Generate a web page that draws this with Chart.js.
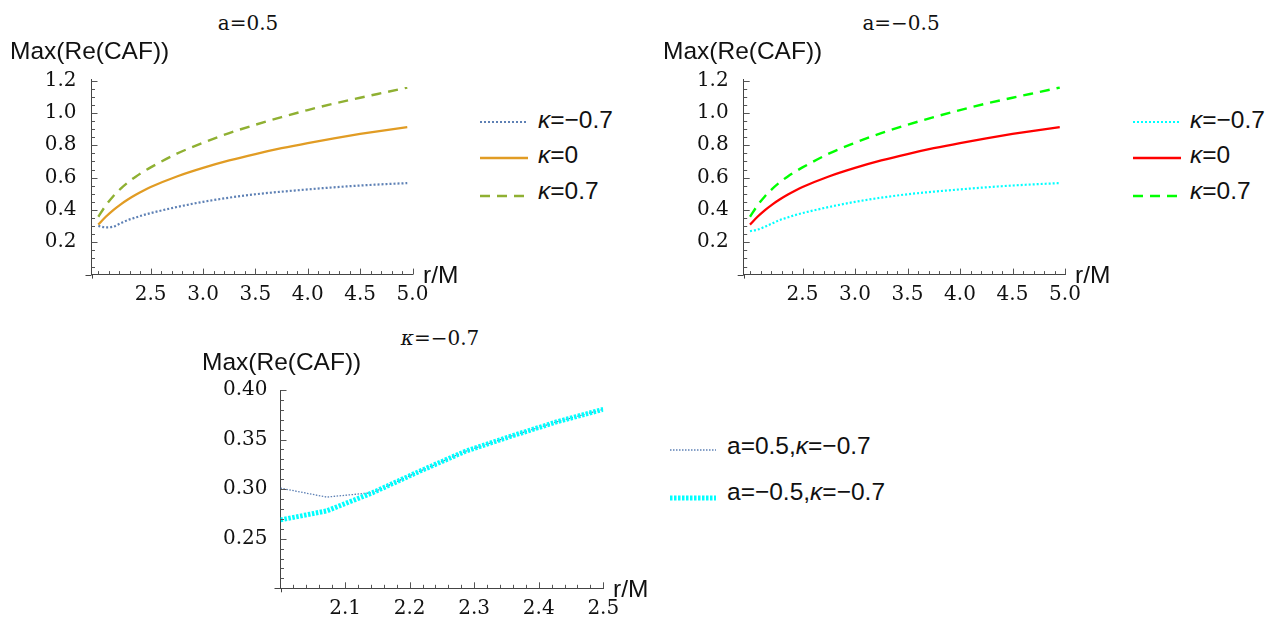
<!DOCTYPE html>
<html><head><meta charset="utf-8">
<script src="https://cdn.jsdelivr.net/npm/chart.js@4"></script>
<style>
body{margin:0;width:1274px;height:618px;background:#fff;position:relative;overflow:hidden;font-family:"Liberation Sans",Arial,sans-serif;color:#111}
.t{position:absolute;white-space:nowrap;line-height:1}
.title{font-family:"DejaVu Serif",serif;font-size:20px;text-align:center;width:200px}
.lab{font-size:24.5px}
canvas{position:absolute}
svg{position:absolute;left:0;top:0}
</style></head><body>
<canvas id="c1" width="480" height="250" style="left:0;top:60px"></canvas>
<canvas id="c2" width="470" height="250" style="left:650px;top:60px"></canvas>
<canvas id="c3" width="450" height="248" style="left:200px;top:370px"></canvas>

<div class="t title" style="left:148px;top:13px">a=0.5</div>
<div class="t title" style="left:801px;top:13px">a=−0.5</div>
<div class="t title" style="left:340px;top:328px"><i>κ</i>=−0.7</div>

<div class="t lab" style="left:10px;top:39px">Max(Re(CAF))</div>
<div class="t lab" style="left:663px;top:39px">Max(Re(CAF))</div>
<div class="t lab" style="left:202px;top:350px">Max(Re(CAF))</div>
<div class="t lab" style="left:423px;top:263px">r/M</div>
<div class="t lab" style="left:1075px;top:263px">r/M</div>
<div class="t lab" style="left:613px;top:577px">r/M</div>

<div class="t lab" style="left:538px;top:107.5px"><i>κ</i>=−0.7</div>
<div class="t lab" style="left:538px;top:143px"><i>κ</i>=0</div>
<div class="t lab" style="left:538px;top:179px"><i>κ</i>=0.7</div>
<div class="t lab" style="left:1190px;top:107.5px"><i>κ</i>=−0.7</div>
<div class="t lab" style="left:1190px;top:143px"><i>κ</i>=0</div>
<div class="t lab" style="left:1190px;top:179px"><i>κ</i>=0.7</div>
<div class="t lab" style="left:727px;top:434px">a=0.5,<i>κ</i>=−0.7</div>
<div class="t lab" style="left:727px;top:480px">a=−0.5,<i>κ</i>=−0.7</div>

<svg width="1274" height="618">
  <line x1="480" y1="122" x2="528" y2="122" stroke="#5e81b5" stroke-width="2.2" stroke-dasharray="2,2"/>
  <line x1="480" y1="158" x2="528" y2="158" stroke="#e19c24" stroke-width="2.3"/>
  <line x1="480" y1="196" x2="528" y2="196" stroke="#8fb032" stroke-width="2.4" stroke-dasharray="10,7"/>
  <line x1="1133" y1="122" x2="1181" y2="122" stroke="#00ffff" stroke-width="2.2" stroke-dasharray="2,2"/>
  <line x1="1133" y1="158" x2="1181" y2="158" stroke="#ff0000" stroke-width="2.3"/>
  <line x1="1133" y1="196" x2="1181" y2="196" stroke="#00ff00" stroke-width="2.4" stroke-dasharray="10,7"/>
  <line x1="670" y1="450" x2="716" y2="450" stroke="#5e81b5" stroke-width="1.3" stroke-dasharray="1.5,1.5"/>
  <line x1="670" y1="498" x2="716" y2="498" stroke="#00ffff" stroke-width="5" stroke-dasharray="2.5,1.5"/>
</svg>

<script>
// ---- data ----
const rTop = [2.0, 2.0714, 2.1429, 2.2143, 2.2857, 2.3571, 2.4286, 2.5, 2.75, 3.0, 3.25, 3.5, 3.75, 4.0, 4.25, 4.5, 4.75, 4.95];
const aPos_kNeg = [0.301, 0.292, 0.2965, 0.3177, 0.338, 0.3534, 0.368, 0.3805, 0.418, 0.45, 0.476, 0.497, 0.513, 0.527, 0.54, 0.551, 0.56, 0.566];
const aPos_k0   = [0.309, 0.3576, 0.399, 0.4347, 0.4661, 0.494, 0.519, 0.5418, 0.607, 0.66, 0.706, 0.746, 0.782, 0.814, 0.843, 0.870, 0.894, 0.912];
const aPos_kPos = [0.358, 0.428, 0.485, 0.532, 0.572, 0.606, 0.636, 0.663, 0.748, 0.8155, 0.8755, 0.927, 0.974, 1.018, 1.058, 1.094, 1.129, 1.157];
const aNeg_kNeg = [0.269, 0.278, 0.2965, 0.3177, 0.338, 0.3534, 0.368, 0.3805, 0.418, 0.45, 0.476, 0.497, 0.513, 0.527, 0.54, 0.551, 0.56, 0.566];
const aNeg_k0   = [0.309, 0.3576, 0.399, 0.4347, 0.4661, 0.494, 0.519, 0.5418, 0.607, 0.66, 0.706, 0.746, 0.782, 0.814, 0.843, 0.870, 0.894, 0.912];
const aNeg_kPos = [0.358, 0.428, 0.485, 0.532, 0.572, 0.606, 0.636, 0.663, 0.748, 0.8155, 0.8755, 0.927, 0.974, 1.018, 1.058, 1.094, 1.129, 1.157];

const rZoom = [2.0, 2.0714, 2.1429, 2.2143, 2.2857, 2.3571, 2.4286, 2.5];
const zoom_aPos = [0.301, 0.292, 0.2965, 0.3177, 0.338, 0.3534, 0.368, 0.3805];
const zoom_aNeg = [0.269, 0.278, 0.2965, 0.3177, 0.338, 0.3534, 0.368, 0.3805];

const xTicksTop = [2.5, 3.0, 3.5, 4.0, 4.5, 5.0];
const xLabelsTop = ['2.5', '3.0', '3.5', '4.0', '4.5', '5.0'];
const yTicksTop = [0.2, 0.4, 0.6, 0.8, 1.0, 1.2];
const yLabelsTop = ['0.2', '0.4', '0.6', '0.8', '1.0', '1.2'];
const xTicksZoom = [2.1, 2.2, 2.3, 2.4, 2.5];
const xLabelsZoom = ['2.1', '2.2', '2.3', '2.4', '2.5'];
const yTicksZoom = [0.25, 0.30, 0.35, 0.40];
const yLabelsZoom = ['0.25', '0.30', '0.35', '0.40'];

// ---- chart setup ----
Chart.defaults.font.family = '"DejaVu Serif", serif';
Chart.defaults.font.size = 20;
Chart.defaults.color = '#111';
Chart.defaults.animation = false;

function ds(label, xs, ys, color, width, dash, smooth, order) {
  return {
    label, data: xs.map((x, i) => ({x, y: ys[i]})),
    borderColor: color, borderWidth: width, borderDash: dash, borderCapStyle: 'butt',
    pointRadius: 0, fill: false, order,
    tension: smooth ? 0.4 : 0, cubicInterpolationMode: smooth ? 'monotone' : 'default'
  };
}

const mmaTicks = {
  id: 'mmaTicks',
  afterDraw(chart, args, o) {
    const {ctx, chartArea: a} = chart;
    const xs = chart.scales.x, ys = chart.scales.y;
    ctx.save();
    ctx.strokeStyle = '#555';
    ctx.lineWidth = 1;
    const seg = (x1, y1, x2, y2) => { ctx.beginPath(); ctx.moveTo(x1, y1); ctx.lineTo(x2, y2); ctx.stroke(); };
    const isMajor = (arr, v) => arr.some(m => Math.abs(m - v) < 1e-6);
    const nx = Math.round((o.x1 - o.x0) / o.xs);
    for (let i = 0; i <= nx; i++) {
      const v = o.x0 + i * o.xs;
      const px = Math.round(xs.getPixelForValue(v)) + 0.5;
      seg(px, a.bottom, px, a.bottom - (isMajor(o.xM, v) ? 6 : 3.5));
    }
    const ny = Math.round((o.y1 - o.y0) / o.ys);
    for (let i = 0; i <= ny; i++) {
      const v = o.y0 + i * o.ys;
      const py = Math.round(ys.getPixelForValue(v)) + 0.5;
      seg(a.left, py, a.left + (isMajor(o.yM, v) ? 6 : 3.5), py);
    }
    ctx.strokeStyle = '#444';
    seg(a.left - 6, Math.round(a.bottom) + 0.5, a.left, Math.round(a.bottom) + 0.5);
    seg(Math.round(a.left) + 0.5, a.bottom, Math.round(a.left) + 0.5, a.bottom + 4);
    ctx.restore();
  }
};

function makeChart(id, datasets, g) {
  const pick = (ticks, labels) => (v) => { const i = ticks.indexOf(v); return i >= 0 ? labels[i] : ''; };
  return new Chart(document.getElementById(id), {
    type: 'line',
    data: {datasets},
    plugins: [mmaTicks],
    options: {
      responsive: false, animation: false,
      layout: {padding: {left: 0, top: g.top, right: g.right, bottom: 0}},
      plugins: {legend: {display: false}, tooltip: {enabled: false}, mmaTicks: g.t},
      scales: {
        x: {
          type: 'linear', min: g.xmin, max: g.xmax,
          afterFit: s => { s.height = g.xh; },
          afterBuildTicks: s => { s.ticks = g.xT.map(v => ({value: v})); },
          grid: {display: false}, border: {display: true, color: '#444', width: 1},
          ticks: {padding: g.xpad, maxRotation: 0, autoSkip: false, callback: pick(g.xT, g.xL)}
        },
        y: {
          type: 'linear', min: g.ymin, max: g.ymax,
          afterFit: s => { s.width = g.yw; },
          afterBuildTicks: s => { s.ticks = g.yT.map(v => ({value: v})); },
          grid: {display: false}, border: {display: true, color: '#444', width: 1},
          ticks: {padding: g.ypad, autoSkip: false, callback: pick(g.yT, g.yL)}
        }
      }
    }
  });
}

const topTicks = {x0: 2.0, x1: 5.0, xs: 0.1, xM: xTicksTop, y0: 0.05, y1: 1.2, ys: 0.05, yM: yTicksTop};

makeChart('c1', [
  ds('κ=−0.7', rTop, aPos_kNeg, '#5e81b5', 2.2, [2, 2], true, 2),
  ds('κ=0', rTop, aPos_k0, '#e19c24', 2.3, [], true, 1),
  ds('κ=0.7', rTop, aPos_kPos, '#8fb032', 2.4, [10, 7], true, 0)
], {top: 16.8, right: 67.5, xh: 35.4, yw: 91.5, xmin: 1.935, xmax: 5.0, ymin: 0, ymax: 1.21,
    xT: xTicksTop, xL: xLabelsTop, yT: yTicksTop, yL: yLabelsTop, xpad: 0, ypad: 7, t: topTicks});

makeChart('c2', [
  ds('κ=−0.7', rTop, aNeg_kNeg, '#00ffff', 2.2, [2, 2], true, 2),
  ds('κ=0', rTop, aNeg_k0, '#ff0000', 2.3, [], true, 1),
  ds('κ=0.7', rTop, aNeg_kPos, '#00ff00', 2.4, [10, 7], true, 0)
], {top: 16.8, right: 55, xh: 35.4, yw: 93.7, xmin: 1.94, xmax: 5.0, ymin: 0, ymax: 1.21,
    xT: xTicksTop, xL: xLabelsTop, yT: yTicksTop, yL: yLabelsTop, xpad: 0, ypad: 7, t: topTicks});

makeChart('c3', [
  ds('a=0.5,κ=−0.7', rZoom, zoom_aPos, '#5e81b5', 1.3, [1.5, 1.5], false, 1),
  ds('a=−0.5,κ=−0.7', rZoom, zoom_aNeg, '#00ffff', 5, [2.5, 1.5], false, 0)
], {top: 20, right: 46.7, xh: 29.7, yw: 80.5, xmin: 2.0, xmax: 2.5, ymin: 0.2, ymax: 0.4,
    xT: xTicksZoom, xL: xLabelsZoom, yT: yTicksZoom, yL: yLabelsZoom, xpad: 0, ypad: 5,
    t: {x0: 2.02, x1: 2.5, xs: 0.02, xM: xTicksZoom, y0: 0.21, y1: 0.4, ys: 0.01, yM: yTicksZoom}});
</script>
</body></html>
